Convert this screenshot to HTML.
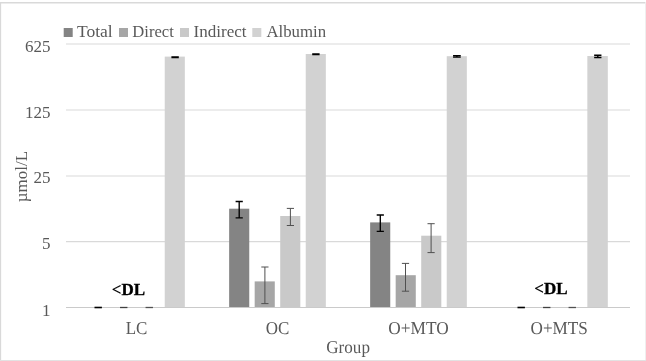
<!DOCTYPE html>
<html lang="en"><head><meta charset="utf-8"><title>Chart</title>
<style>html,body{margin:0;padding:0;background:#fff}svg{display:block}text{font-family:"Liberation Serif","Times New Roman",serif;font-size:17px;fill:#595959}</style>
</head><body>
<svg width="646" height="361" viewBox="0 0 646 361">
<rect x="0" y="0" width="646" height="361" fill="#fff"/>
<line x1="0" y1="2.75" x2="646" y2="2.75" stroke="#d9d9d9" stroke-width="1.3"/>
<line x1="0.55" y1="2.1" x2="0.55" y2="361" stroke="#d9d9d9" stroke-width="1.2"/>
<line x1="645.5" y1="2.1" x2="645.5" y2="361" stroke="#efefef" stroke-width="1"/>
<line x1="0" y1="360.5" x2="646" y2="360.5" stroke="#e2e2e2" stroke-width="1"/>
<line x1="66" y1="44" x2="630" y2="44" stroke="#d9d9d9" stroke-width="1.2"/>
<line x1="66" y1="110" x2="630" y2="110" stroke="#d9d9d9" stroke-width="1.2"/>
<line x1="66" y1="176" x2="630" y2="176" stroke="#d9d9d9" stroke-width="1.2"/>
<line x1="66" y1="241.7" x2="630" y2="241.7" stroke="#d9d9d9" stroke-width="1.2"/>
<rect x="164.74" y="56.60" width="20.10" height="250.90" fill="#d2d2d2"/>
<rect x="229.15" y="208.70" width="20.10" height="98.80" fill="#848484"/>
<rect x="254.68" y="281.40" width="20.10" height="26.10" fill="#a6a6a6"/>
<rect x="280.21" y="216.00" width="20.10" height="91.50" fill="#c9c9c9"/>
<rect x="305.74" y="54.00" width="20.10" height="253.50" fill="#d2d2d2"/>
<rect x="370.15" y="222.40" width="20.10" height="85.10" fill="#848484"/>
<rect x="395.68" y="275.20" width="20.10" height="32.30" fill="#a6a6a6"/>
<rect x="421.21" y="235.70" width="20.10" height="71.80" fill="#c9c9c9"/>
<rect x="446.74" y="56.20" width="20.10" height="251.30" fill="#d2d2d2"/>
<rect x="587.35" y="56.00" width="20.45" height="251.50" fill="#d2d2d2"/>
<line x1="66" y1="307.5" x2="630" y2="307.5" stroke="#cacaca" stroke-width="1.1"/>
<path d="M235.60 201.50H242.80M235.60 217.90H242.80M239.20 201.50V217.90" stroke="#000" stroke-width="1.35" fill="none"/>
<path d="M261.30 267.00H268.50M261.30 303.60H268.50M264.90 267.00V303.60" stroke="#505050" stroke-width="1" fill="none"/>
<path d="M286.80 208.40H294.00M286.80 225.50H294.00M290.40 208.40V225.50" stroke="#505050" stroke-width="1" fill="none"/>
<path d="M376.70 215.00H383.90M376.70 231.40H383.90M380.30 215.00V231.40" stroke="#000" stroke-width="1.35" fill="none"/>
<path d="M401.90 263.40H409.10M401.90 291.20H409.10M405.50 263.40V291.20" stroke="#505050" stroke-width="1" fill="none"/>
<path d="M427.50 223.70H434.70M427.50 252.60H434.70M431.10 223.70V252.60" stroke="#505050" stroke-width="1" fill="none"/>
<path d="M171.40 56.90H178.80M171.40 57.70H178.80M175.10 56.90V57.70" stroke="#000" stroke-width="1.3" fill="none"/>
<path d="M312.20 53.85H319.60M312.20 54.65H319.60M315.90 53.85V54.65" stroke="#000" stroke-width="1.3" fill="none"/>
<path d="M453.05 55.70H460.75M453.05 57.20H460.75M456.90 55.70V57.20" stroke="#000" stroke-width="1.3" fill="none"/>
<path d="M594.15 55.20H601.45M594.15 57.50H601.45M597.80 55.20V57.50" stroke="#000" stroke-width="1.4" fill="none"/>
<line x1="94.50" y1="307.5" x2="101.90" y2="307.5" stroke="#000" stroke-width="1.6"/>
<line x1="120.03" y1="307.5" x2="127.43" y2="307.5" stroke="#404040" stroke-width="1.3"/>
<line x1="145.56" y1="307.5" x2="152.96" y2="307.5" stroke="#505050" stroke-width="1.3"/>
<line x1="517.50" y1="307.5" x2="524.90" y2="307.5" stroke="#000" stroke-width="1.6"/>
<line x1="543.03" y1="307.5" x2="550.43" y2="307.5" stroke="#404040" stroke-width="1.3"/>
<line x1="568.56" y1="307.5" x2="575.96" y2="307.5" stroke="#505050" stroke-width="1.3"/>
<rect x="63.7" y="28" width="9" height="9" fill="#848484"/>
<text x="76.9" y="36.8" style="font-size:16.3px" textLength="35.8" lengthAdjust="spacingAndGlyphs">Total</text>
<rect x="119.0" y="28" width="9" height="9" fill="#a6a6a6"/>
<text x="132.3" y="36.8" style="font-size:16.3px" textLength="41.5" lengthAdjust="spacingAndGlyphs">Direct</text>
<rect x="180.0" y="28" width="9" height="9" fill="#c9c9c9"/>
<text x="193.5" y="36.8" style="font-size:16.3px" textLength="53" lengthAdjust="spacingAndGlyphs">Indirect</text>
<rect x="252.3" y="28" width="9" height="9" fill="#d2d2d2"/>
<text x="266.4" y="36.8" style="font-size:16.3px" textLength="59.7" lengthAdjust="spacingAndGlyphs">Albumin</text>
<text x="50.6" y="51.7" text-anchor="end">625</text>
<text x="50.6" y="117.7" text-anchor="end">125</text>
<text x="50.6" y="183.3" text-anchor="end">25</text>
<text x="50.6" y="249" text-anchor="end">5</text>
<text x="50.6" y="315.5" text-anchor="end">1</text>
<text transform="translate(26.8,176.6) rotate(-90)" text-anchor="middle">µmol/L</text>
<text transform="translate(136.5,333.8) scale(0.9341,1)" style="font-size:18.2px;text-rendering:geometricPrecision" text-anchor="middle">LC</text>
<text transform="translate(277.5,333.8) scale(0.9341,1)" style="font-size:18.2px;text-rendering:geometricPrecision" text-anchor="middle">OC</text>
<text transform="translate(418.45,333.8) scale(0.9509,1)" style="font-size:18.2px;text-rendering:geometricPrecision" text-anchor="middle">O+MTO</text>
<text transform="translate(559.2,333.8) scale(0.9434,1)" style="font-size:18.2px;text-rendering:geometricPrecision" text-anchor="middle">O+MTS</text>
<text transform="translate(348.1,353.45) scale(0.9387,1)" style="font-size:18.2px;text-rendering:geometricPrecision" text-anchor="middle">Group</text>
<text x="128.4" y="294.9" text-anchor="middle" style="font-weight:bold;fill:#000;stroke:#000;stroke-width:0.35px"><tspan style="stroke-width:0.1px">&lt;</tspan>DL</text>
<text x="551.0" y="293.9" text-anchor="middle" style="font-weight:bold;fill:#000;stroke:#000;stroke-width:0.35px"><tspan style="stroke-width:0.1px">&lt;</tspan>DL</text>
</svg></body></html>
